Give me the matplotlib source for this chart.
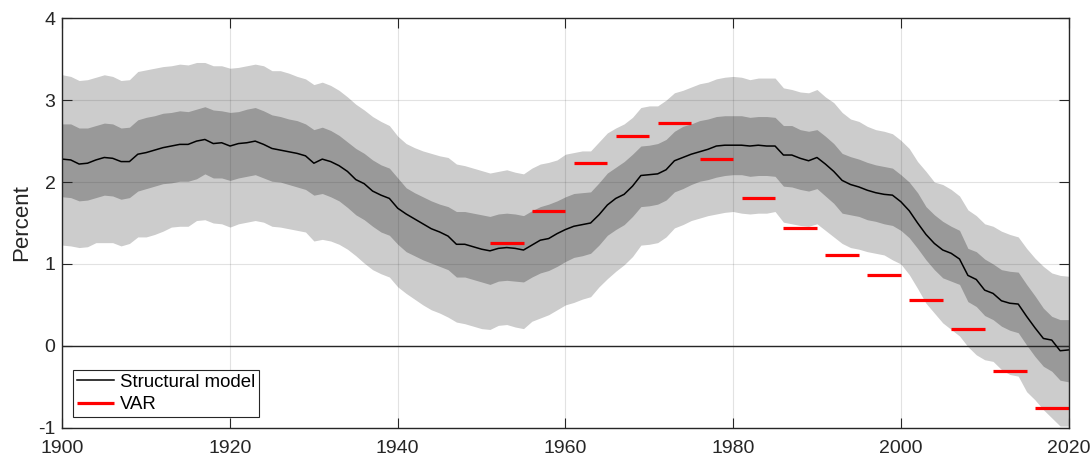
import numpy as np
import matplotlib
matplotlib.use("Agg")
import matplotlib.pyplot as plt

plt.rcParams['font.family'] = ['Liberation Sans', 'DejaVu Sans']
plt.rcParams['axes.unicode_minus'] = False

# annual estimates, 1900-2020
years = list(range(1900, 2021))

structural = [
    2.28, 2.27, 2.22, 2.23, 2.27, 2.30, 2.29, 2.25, 2.25, 2.34,
    2.36, 2.39, 2.42, 2.44, 2.46, 2.46, 2.50, 2.52, 2.47, 2.48,
    2.44, 2.47, 2.48, 2.50, 2.46, 2.41, 2.39, 2.37, 2.35, 2.32,
    2.23, 2.28, 2.25, 2.20, 2.13, 2.03, 1.98, 1.89, 1.84, 1.80,
    1.68, 1.61, 1.55, 1.49, 1.43, 1.39, 1.34, 1.24, 1.24, 1.21,
    1.18, 1.16, 1.19, 1.20, 1.19, 1.17, 1.23, 1.29, 1.31, 1.37,
    1.42, 1.46, 1.48, 1.50, 1.60, 1.72, 1.80, 1.85, 1.95, 2.08,
    2.09, 2.10, 2.15, 2.26, 2.30, 2.34, 2.37, 2.40, 2.44, 2.45,
    2.45, 2.45, 2.44, 2.45, 2.44, 2.44, 2.33, 2.33, 2.29, 2.26,
    2.30, 2.22, 2.13, 2.02, 1.97, 1.94, 1.90, 1.87, 1.85, 1.84,
    1.76, 1.65, 1.50, 1.36, 1.25, 1.17, 1.13, 1.06, 0.86, 0.81,
    0.68, 0.64, 0.55, 0.52, 0.51, 0.36, 0.22, 0.09, 0.07, -0.06,
    -0.05,
]

outer_upper = [
    3.31, 3.29, 3.24, 3.25, 3.28, 3.31, 3.29, 3.24, 3.25, 3.35,
    3.37, 3.39, 3.41, 3.42, 3.44, 3.43, 3.46, 3.46, 3.42, 3.42,
    3.39, 3.40, 3.42, 3.44, 3.42, 3.36, 3.36, 3.33, 3.29, 3.26,
    3.19, 3.22, 3.18, 3.12, 3.04, 2.95, 2.88, 2.80, 2.74, 2.69,
    2.56, 2.47, 2.42, 2.38, 2.35, 2.32, 2.30, 2.22, 2.20, 2.17,
    2.14, 2.11, 2.13, 2.15, 2.12, 2.10, 2.17, 2.22, 2.24, 2.27,
    2.34, 2.36, 2.38, 2.38, 2.49, 2.60, 2.66, 2.71, 2.79, 2.91,
    2.93, 2.93, 3.00, 3.09, 3.12, 3.16, 3.20, 3.22, 3.26, 3.28,
    3.29, 3.28, 3.25, 3.27, 3.27, 3.27, 3.15, 3.13, 3.10, 3.09,
    3.13, 3.04, 2.97, 2.85, 2.77, 2.74, 2.68, 2.64, 2.62, 2.59,
    2.51, 2.41, 2.25, 2.13, 2.00, 1.97, 1.91, 1.83, 1.66, 1.59,
    1.49, 1.46, 1.40, 1.36, 1.33, 1.19, 1.07, 0.97, 0.89, 0.86,
    0.85,
]

inner_upper = [
    2.71, 2.71, 2.66, 2.66, 2.69, 2.72, 2.71, 2.66, 2.67, 2.76,
    2.79, 2.81, 2.84, 2.85, 2.87, 2.86, 2.89, 2.92, 2.88, 2.87,
    2.85, 2.86, 2.89, 2.91, 2.87, 2.82, 2.80, 2.77, 2.75, 2.71,
    2.64, 2.67, 2.63, 2.57, 2.49, 2.41, 2.35, 2.27, 2.21, 2.17,
    2.05, 1.93, 1.87, 1.82, 1.77, 1.73, 1.70, 1.64, 1.64, 1.62,
    1.60, 1.58, 1.61, 1.62, 1.61, 1.59, 1.65, 1.70, 1.73, 1.77,
    1.82, 1.86, 1.87, 1.88, 1.99, 2.11, 2.18, 2.25, 2.34, 2.44,
    2.45, 2.47, 2.52, 2.62, 2.68, 2.71, 2.75, 2.77, 2.80, 2.81,
    2.81, 2.81, 2.79, 2.80, 2.80, 2.79, 2.69, 2.69, 2.64, 2.62,
    2.64, 2.56, 2.47, 2.35, 2.31, 2.28, 2.24, 2.21, 2.19, 2.17,
    2.09, 2.00, 1.87, 1.70, 1.60, 1.52, 1.46, 1.41, 1.19, 1.15,
    1.06, 1.00, 0.93, 0.91, 0.90, 0.75, 0.61, 0.46, 0.36, 0.32,
    0.32,
]

inner_lower = [
    1.82, 1.81, 1.77, 1.78, 1.81, 1.84, 1.83, 1.79, 1.81, 1.89,
    1.92, 1.95, 1.98, 1.99, 2.01, 2.01, 2.04, 2.10, 2.05, 2.05,
    2.02, 2.05, 2.07, 2.09, 2.05, 2.01, 2.00, 1.97, 1.94, 1.91,
    1.84, 1.86, 1.82, 1.77, 1.69, 1.60, 1.54, 1.46, 1.39, 1.35,
    1.24, 1.15, 1.10, 1.05, 1.01, 0.97, 0.93, 0.84, 0.84, 0.81,
    0.78, 0.75, 0.79, 0.80, 0.79, 0.78, 0.84, 0.89, 0.92, 0.97,
    1.03, 1.08, 1.10, 1.13, 1.23, 1.35, 1.42, 1.48, 1.58, 1.70,
    1.71, 1.73, 1.78, 1.88, 1.92, 1.97, 2.01, 2.03, 2.06, 2.08,
    2.09, 2.09, 2.07, 2.08, 2.08, 2.07, 1.95, 1.94, 1.91, 1.89,
    1.92, 1.83, 1.74, 1.62, 1.60, 1.58, 1.54, 1.52, 1.49, 1.47,
    1.41, 1.32, 1.19, 1.05, 0.93, 0.83, 0.79, 0.75, 0.54, 0.48,
    0.37, 0.32, 0.24, 0.19, 0.16, 0.01, -0.13, -0.25, -0.31, -0.42,
    -0.44,
]

outer_lower = [
    1.23, 1.22, 1.20, 1.21, 1.26, 1.26, 1.26, 1.22, 1.25, 1.33,
    1.33, 1.36, 1.40, 1.45, 1.46, 1.46, 1.53, 1.54, 1.50, 1.49,
    1.45, 1.49, 1.51, 1.53, 1.51, 1.46, 1.45, 1.43, 1.41, 1.39,
    1.28, 1.30, 1.28, 1.24, 1.18, 1.10, 1.01, 0.93, 0.88, 0.84,
    0.72, 0.64, 0.57, 0.50, 0.44, 0.40, 0.35, 0.29, 0.27, 0.24,
    0.21, 0.20, 0.25, 0.26, 0.23, 0.21, 0.30, 0.34, 0.38, 0.44,
    0.50, 0.53, 0.57, 0.60, 0.72, 0.82, 0.91, 0.99, 1.09, 1.23,
    1.24, 1.26, 1.33, 1.44, 1.48, 1.53, 1.56, 1.59, 1.61, 1.63,
    1.64, 1.62, 1.61, 1.62, 1.62, 1.64, 1.51, 1.49, 1.47, 1.46,
    1.49, 1.41, 1.33, 1.25, 1.20, 1.18, 1.15, 1.13, 1.11, 1.05,
    1.00, 0.87, 0.70, 0.52, 0.40, 0.28, 0.20, 0.12, -0.01, -0.11,
    -0.17, -0.19, -0.29, -0.35, -0.37, -0.56, -0.66, -0.78, -0.88, -0.98,
    -0.98,
]

# VAR estimates: one value per 5-year window
var_start = [1951, 1956, 1961, 1966, 1971, 1976, 1981, 1986, 1991, 1996, 2001, 2006, 2011, 2016]
var_end = [1955, 1960, 1965, 1970, 1975, 1980, 1985, 1990, 1995, 2000, 2005, 2010, 2015, 2020]
var_value = [1.25, 1.65, 2.23, 2.56, 2.72, 2.28, 1.80, 1.44, 1.11, 0.86, 0.56, 0.20, -0.31, -0.76]

fig = plt.figure(figsize=(10.92, 4.57), dpi=100)
ax = fig.add_axes([0.0571, 0.0641, 0.9214, 0.8959])

ax.fill_between(years, outer_lower, outer_upper, color='#cccccc', lw=0, zorder=1)
ax.fill_between(years, inner_lower, inner_upper, color='#999999', lw=0, zorder=1.2)

ax.axhline(0, color='#262626', lw=1.0, zorder=2)
ax.plot(years, structural, color='k', lw=1.1, zorder=4, label='Structural model')
for i in range(len(var_value)):
    ax.plot([var_start[i], var_end[i]], [var_value[i], var_value[i]], color='#ff0000',
            lw=2.3, solid_capstyle='butt', zorder=4, label='VAR' if i == 0 else None)

ax.set_xlim(1900, 2020)
ax.set_ylim(-1, 4)
ax.set_xticks(range(1900, 2021, 20))
ax.set_yticks(range(-1, 5))
ax.set_axisbelow(False)
ax.grid(True, color='#262626', alpha=0.13, lw=0.8, zorder=3)
ax.tick_params(direction='in', length=7, width=0.8, top=True, right=True,
               labelsize=14, colors='#262626')
ax.tick_params(axis='x', pad=8.5)
ax.tick_params(axis='y', pad=5)
for s in ax.spines.values():
    s.set_color('#262626')
    s.set_linewidth(1.0)
    s.set_zorder(5)
ax.set_ylabel('Percent', fontsize=16, color='#262626', labelpad=4)

leg = ax.legend(loc='lower left', bbox_to_anchor=(0.0106, 0.026), borderaxespad=0,
                fontsize=13.4, handlelength=2.0, handletextpad=0.3, labelspacing=0.3,
                borderpad=0.2, fancybox=False, framealpha=1, edgecolor='#262626')
leg.get_frame().set_linewidth(0.8)
leg.set_zorder(6)

fig.savefig('out.png', dpi=100)
